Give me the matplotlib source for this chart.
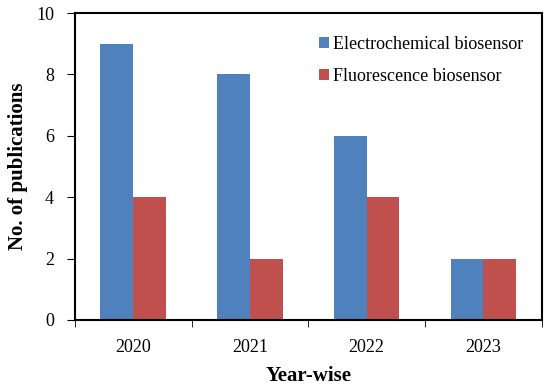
import matplotlib
matplotlib.use("Agg")
import matplotlib.pyplot as plt
import numpy as np

years = ["2020", "2021", "2022", "2023"]
electrochemical = [9, 8, 6, 2]
fluorescence = [4, 2, 4, 2]
series_names = ["Electrochemical biosensor", "Fluorescence biosensor"]
yticks = [0, 2, 4, 6, 8, 10]

plt.rcParams['font.family'] = ['Liberation Serif', 'DejaVu Serif']

fig = plt.figure(figsize=(5.5, 3.86), dpi=100)
ax = fig.add_axes([0.136, 0.171, 0.849, 0.795])

x = np.arange(len(years))
w = 0.28
ax.bar(x - w/2, electrochemical, w, color="#4F81BD", label=series_names[0])
ax.bar(x + w/2, fluorescence, w, color="#C0504D", label=series_names[1])

ax.set_xlim(-0.5, len(years) - 0.5)
ax.set_ylim(0, 10)
ax.set_yticks(yticks)
ax.set_xticks(x)
ax.set_xticklabels(years)
ax.set_xticks(np.arange(-0.5, len(years)), minor=True)
ax.tick_params(axis='x', which='major', length=0, labelsize=13, pad=14)
ax.tick_params(axis='x', which='minor', length=5, direction='out')
ax.tick_params(axis='y', length=6, direction='out', labelsize=13, pad=9)

for s in ax.spines.values():
    s.set_linewidth(1.5)
    s.set_color('black')

ax.set_ylabel("No. of publications", fontsize=15, fontweight='bold', labelpad=6)
ax.set_xlabel("Year-wise", fontsize=15, fontweight='bold', labelpad=7)

ax.legend(loc='upper right', frameon=False, fontsize=13, handlelength=0.55,
          handleheight=0.55, handletextpad=0.2, labelspacing=0.85,
          bbox_to_anchor=(0.995, 0.98))

fig.savefig("out.png", dpi=100)
